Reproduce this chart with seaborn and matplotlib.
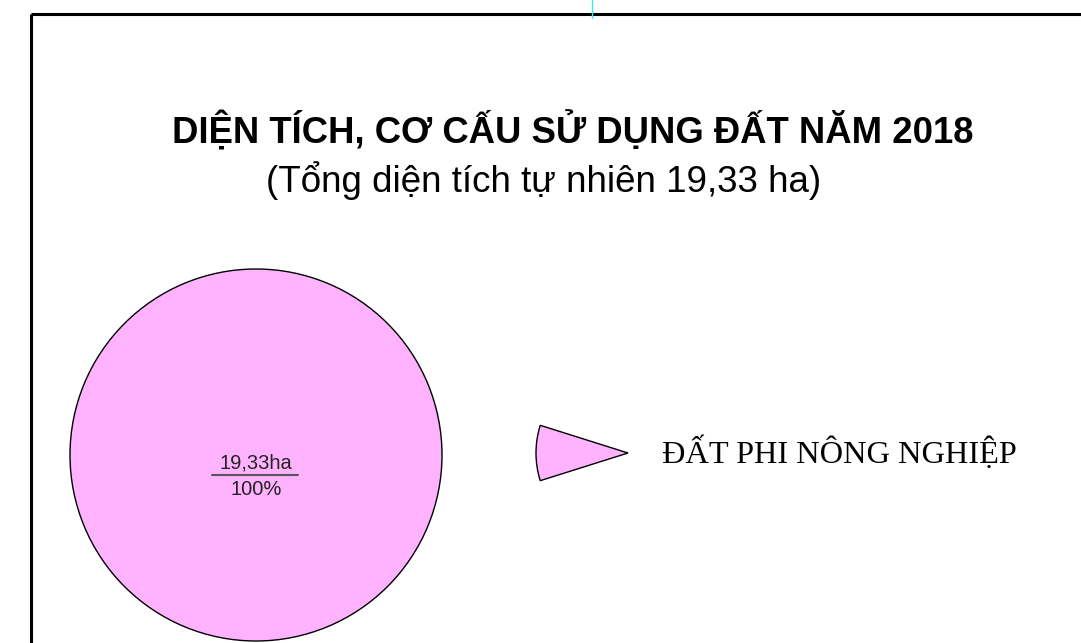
import matplotlib
matplotlib.use("Agg")
import matplotlib.pyplot as plt
import seaborn as sns
from matplotlib.patches import Wedge

# --- data ---
categories = ["ĐẤT PHI NÔNG NGHIỆP"]
areas_ha = [19.33]
shares_pct = [100]
colors = ["#FFB3FF"]
title = "DIỆN TÍCH, CƠ CẤU SỬ DỤNG ĐẤT NĂM 2018"
subtitle = "(Tổng diện tích tự nhiên 19,33 ha)"

sns.set_theme(style="white")
sans = ["Liberation Sans", "DejaVu Sans"]
serif = ["Liberation Serif", "DejaVu Serif"]
plt.rcParams["font.family"] = sans
plt.rcParams["text.color"] = "black"

W, H = 1081, 643
fig = plt.figure(figsize=(W / 100, H / 100), dpi=100)
fig.patch.set_facecolor("white")

# overlay axes in pixel coordinates for frame and texts
ov = fig.add_axes([0, 0, 1, 1])
ov.set_xlim(0, W)
ov.set_ylim(H, 0)
ov.axis("off")

ov.plot([31, W], [14, 14], color="black", lw=2.2, solid_capstyle="butt")
ov.plot([31, 31], [14, H], color="black", lw=2.2, solid_capstyle="butt")
ov.plot([592, 592], [0, 18], color="#40E8F0", lw=1)

ov.text(572.5, 144, title, ha="center", va="baseline", fontsize=26.3,
        fontweight="bold", family=sans, color="black")
ov.text(544, 192, subtitle, ha="center", va="baseline", fontsize=26.5,
        family=sans, color="black")

# pie
cx, cy, r = 256, 455, 186
pax = fig.add_axes([(cx - r) / W, (H - cy - r) / H, 2 * r / W, 2 * r / H])
pax.pie(areas_ha, colors=colors, startangle=90, counterclock=False,
        wedgeprops=dict(edgecolor="black", linewidth=1))
pax.set_xlim(-1, 1)
pax.set_ylim(-1, 1)
pax.set_aspect("equal")
pax.axis("off")

label_top = f"{areas_ha[0]:.2f}".replace(".", ",") + "ha"
label_bot = f"{shares_pct[0]}%"
pax.text(0.0, -0.07, label_top, ha="center", va="baseline", fontsize=14.5,
         color="#222222")
pax.plot([-0.237, 0.226], [-0.108, -0.108], color="#555555", lw=1.5)
pax.text(0.0, -0.215, label_bot, ha="center", va="baseline", fontsize=14.5,
         color="#222222")

# legend entry
for i, (cat, col) in enumerate(zip(categories, colors)):
    y = 453 + i * 60
    ov.add_patch(Wedge((628, y), 92, 162.5, 197.5, facecolor=col,
                       edgecolor="black", lw=1))
    ov.text(662, y + 10, cat, ha="left", va="baseline", fontsize=23.3,
            family=serif, color="black")

fig.savefig("out.png", dpi=100)
